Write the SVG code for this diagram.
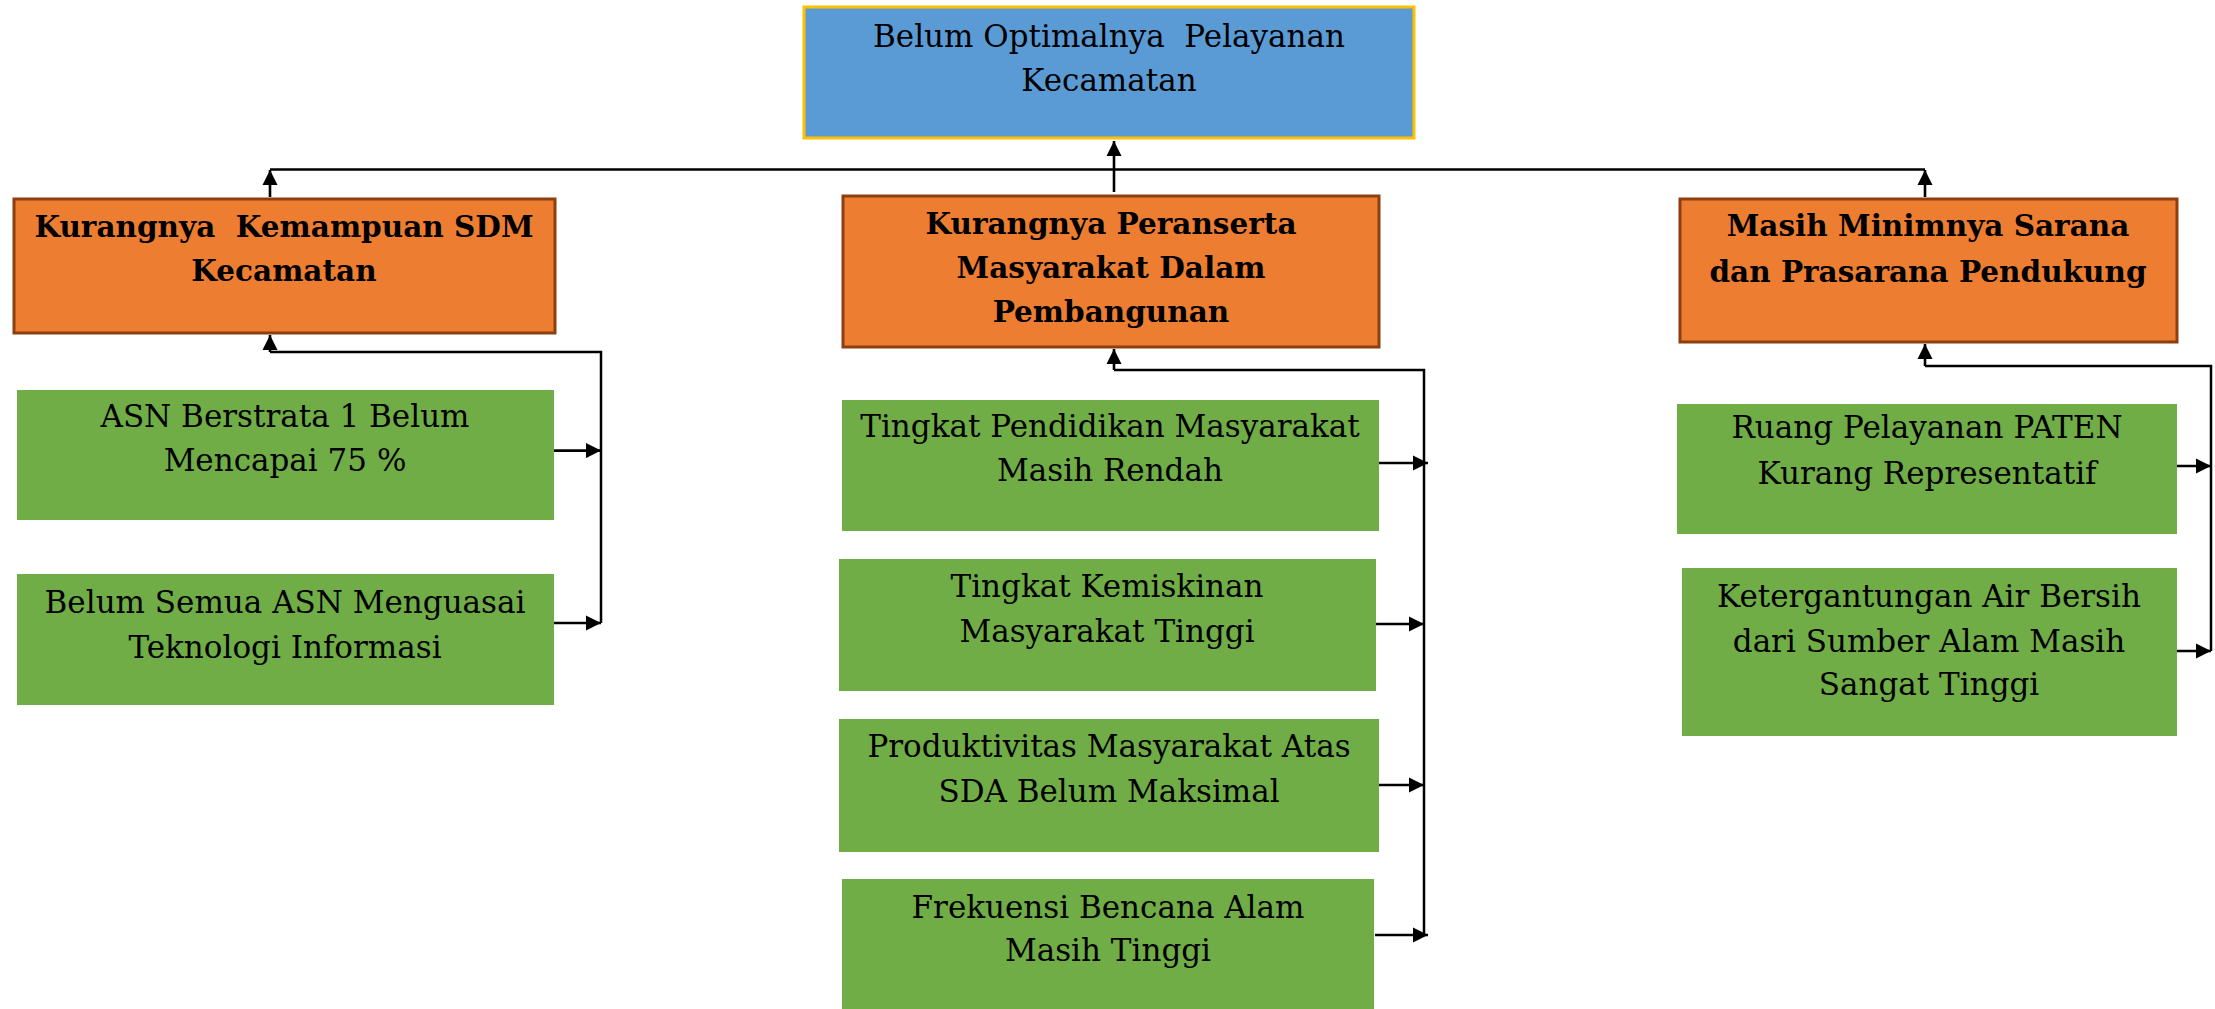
<svg xmlns="http://www.w3.org/2000/svg" width="2215" height="1009" viewBox="0 0 2215 1009">
<defs>
<style>
.top{fill:#5B9BD5;stroke:#FFC000;stroke-width:3}
.cat{fill:#ED7D31;stroke:#8E3F10;stroke-width:3}
.leaf{fill:#70AD47;stroke:none}
.t{font-family:"DejaVu Serif","Liberation Serif",serif;font-size:31px;fill:#000;text-anchor:middle}
.b{font-weight:bold;font-size:29.5px}
.ln{fill:none;stroke:#000;stroke-width:2.5}
.ar{fill:none;stroke:#000;stroke-width:2.6;marker-end:url(#ah)}
</style>
<marker id="ah" viewBox="0 0 10 10" refX="10" refY="5" markerWidth="5.8" markerHeight="5.8" orient="auto" markerUnits="strokeWidth">
<path d="M0,0 L10,5 L0,10 z" fill="#000"/>
</marker>
</defs>
<rect width="2215" height="1009" fill="#fff"/>

<g id="connectors">
<path class="ln" d="M270,169.5 H1925"/>
<path class="ar" d="M1114,192 V141"/>
<path class="ar" d="M270,197 V170"/>
<path class="ar" d="M1925,197 V170"/>
<path class="ln" d="M601,623 V352 H270"/>
<path class="ar" d="M270,352 V335"/>
<path class="ar" d="M548,450.6 H601"/>
<path class="ar" d="M548,623 H601"/>
<path class="ln" d="M1424,935 V370 H1114"/>
<path class="ar" d="M1114,370 V349"/>
<path class="ar" d="M1375,463 H1428"/>
<path class="ar" d="M1375,624 H1424"/>
<path class="ar" d="M1375,785 H1424"/>
<path class="ar" d="M1375,935 H1428"/>
<path class="ln" d="M2211,651 V366 H1925"/>
<path class="ar" d="M1925,366 V344"/>
<path class="ar" d="M2176,466 H2211"/>
<path class="ar" d="M2176,651 H2211"/>
</g>

<g id="n-top">
<rect class="top" x="804" y="7" width="610" height="131"/>
<text class="t" x="1109" y="47" xml:space="preserve">Belum Optimalnya  Pelayanan</text>
<text class="t" x="1109" y="91">Kecamatan</text>
</g>

<g id="n-sdm">
<rect class="cat" x="14" y="199" width="541" height="134"/>
<text class="t b" x="284" y="237" xml:space="preserve">Kurangnya  Kemampuan SDM</text>
<text class="t b" x="284" y="281">Kecamatan</text>
</g>

<g id="n-peran">
<rect class="cat" x="843" y="196" width="536" height="151"/>
<text class="t b" x="1111" y="234">Kurangnya Peranserta</text>
<text class="t b" x="1111" y="278">Masyarakat Dalam</text>
<text class="t b" x="1111" y="322">Pembangunan</text>
</g>

<g id="n-sarana">
<rect class="cat" x="1680" y="199" width="497" height="143"/>
<text class="t b" x="1928" y="236">Masih Minimnya Sarana</text>
<text class="t b" x="1928" y="282">dan Prasarana Pendukung</text>
</g>

<g id="n-asn1">
<rect class="leaf" x="17" y="390" width="537" height="130"/>
<text class="t" x="285" y="427">ASN Berstrata 1 Belum</text>
<text class="t" x="285" y="471">Mencapai 75 %</text>
</g>

<g id="n-asn2">
<rect class="leaf" x="17" y="574" width="537" height="131"/>
<text class="t" x="285" y="613">Belum Semua ASN Menguasai</text>
<text class="t" x="285" y="658">Teknologi Informasi</text>
</g>

<g id="n-pendidikan">
<rect class="leaf" x="842" y="400" width="537" height="131"/>
<text class="t" x="1110" y="437">Tingkat Pendidikan Masyarakat</text>
<text class="t" x="1110" y="481">Masih Rendah</text>
</g>

<g id="n-kemiskinan">
<rect class="leaf" x="839" y="559" width="537" height="132"/>
<text class="t" x="1107" y="597">Tingkat Kemiskinan</text>
<text class="t" x="1107" y="642">Masyarakat Tinggi</text>
</g>

<g id="n-produktivitas">
<rect class="leaf" x="839" y="719" width="540" height="133"/>
<text class="t" x="1109" y="757">Produktivitas Masyarakat Atas</text>
<text class="t" x="1109" y="802">SDA Belum Maksimal</text>
</g>

<g id="n-bencana">
<rect class="leaf" x="842" y="879" width="532" height="130"/>
<text class="t" x="1108" y="918">Frekuensi Bencana Alam</text>
<text class="t" x="1108" y="961">Masih Tinggi</text>
</g>

<g id="n-paten">
<rect class="leaf" x="1677" y="404" width="500" height="130"/>
<text class="t" x="1927" y="438">Ruang Pelayanan PATEN</text>
<text class="t" x="1927" y="484">Kurang Representatif</text>
</g>

<g id="n-air">
<rect class="leaf" x="1682" y="568" width="495" height="168"/>
<text class="t" x="1929" y="607">Ketergantungan Air Bersih</text>
<text class="t" x="1929" y="652">dari Sumber Alam Masih</text>
<text class="t" x="1929" y="695">Sangat Tinggi</text>
</g>
</svg>
